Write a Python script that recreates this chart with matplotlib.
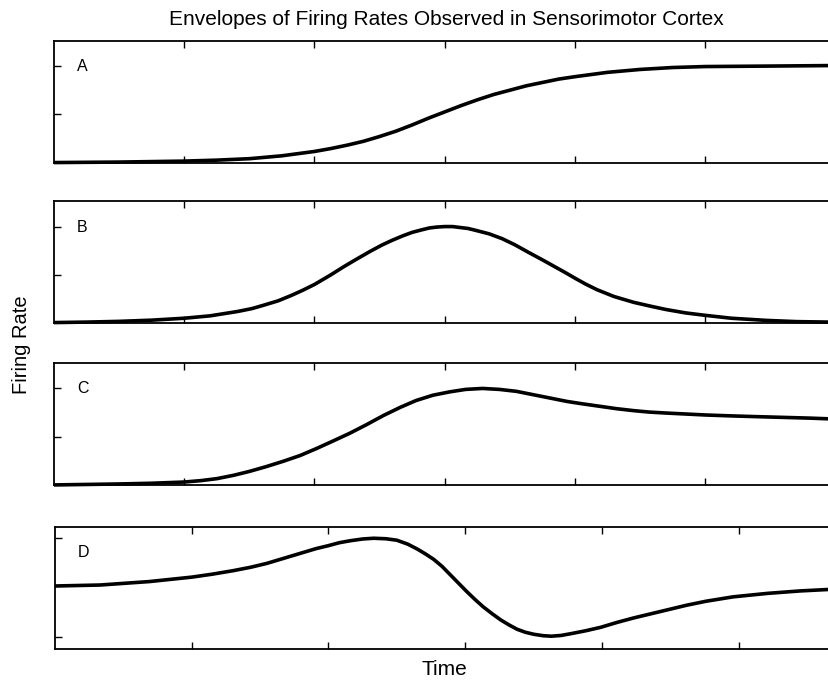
import numpy as np
import matplotlib.pyplot as plt

plt.rcParams['font.family'] = ['Liberation Sans', 'DejaVu Sans']

# time samples (arbitrary units) and the four firing-rate envelopes
t_a = [0.0, 0.25, 0.5, 0.75, 1.0, 1.25, 1.5, 1.75, 2.0, 2.125, 2.25, 2.375,
       2.5, 2.625, 2.75, 2.875, 3.0, 3.125, 3.25, 3.375, 3.5, 3.625, 3.75,
       3.875, 4.0, 4.25, 4.5, 4.75, 5.0, 5.5, 5.95]
rate_a = [0.0, 0.005, 0.01, 0.02, 0.03, 0.05, 0.08, 0.14, 0.23, 0.29, 0.36,
          0.44, 0.54, 0.65, 0.78, 0.92, 1.05, 1.18, 1.30, 1.41, 1.50, 1.59,
          1.66, 1.73, 1.78, 1.87, 1.93, 1.97, 1.99, 2.0, 2.01]

t_b = [0.0, 0.25, 0.5, 0.75, 1.0, 1.2, 1.41, 1.52, 1.61, 1.72, 1.82, 1.91,
       2.0, 2.12, 2.22, 2.32, 2.43, 2.52, 2.6, 2.68, 2.75, 2.82, 2.88, 2.94,
       3.0, 3.06, 3.12, 3.18, 3.24, 3.34, 3.44, 3.54, 3.64, 3.75, 3.85, 3.93,
       4.0, 4.08, 4.17, 4.3, 4.45, 4.58, 4.7, 4.85, 5.0, 5.2, 5.47, 5.7, 5.95]
rate_b = [0.01, 0.02, 0.035, 0.06, 0.10, 0.15, 0.24, 0.30, 0.37, 0.46, 0.57,
          0.68, 0.80, 0.99, 1.16, 1.32, 1.49, 1.62, 1.72, 1.81, 1.88, 1.93,
          1.97, 1.99, 2.0, 2.0, 1.98, 1.96, 1.92, 1.85, 1.75, 1.62, 1.47,
          1.31, 1.16, 1.04, 0.93, 0.81, 0.69, 0.55, 0.43, 0.35, 0.28, 0.21,
          0.16, 0.10, 0.055, 0.03, 0.02]

t_c = [0.0, 0.25, 0.5, 0.75, 1.0, 1.13, 1.25, 1.38, 1.5, 1.63, 1.76, 1.89,
       2.02, 2.15, 2.27, 2.4, 2.53, 2.66, 2.78, 2.91, 3.04, 3.16, 3.29, 3.42,
       3.55, 3.68, 3.81, 3.94, 4.06, 4.19, 4.32, 4.45, 4.57, 4.7, 4.85, 5.0,
       5.21, 5.4, 5.6, 5.8, 5.95]
rate_c = [0.0, 0.01, 0.02, 0.035, 0.06, 0.09, 0.13, 0.20, 0.28, 0.38, 0.49,
          0.61, 0.76, 0.92, 1.07, 1.25, 1.44, 1.61, 1.75, 1.86, 1.93, 1.98,
          2.0, 1.98, 1.94, 1.87, 1.80, 1.73, 1.68, 1.63, 1.58, 1.54, 1.51,
          1.49, 1.47, 1.45, 1.43, 1.415, 1.40, 1.385, 1.37]

# panel D runs on its own, slightly coarser time axis
t_d = [0.0, 0.33, 0.69, 1.0, 1.15, 1.3, 1.43, 1.55, 1.67, 1.79, 1.91, 2.0,
       2.08, 2.16, 2.25, 2.33, 2.42, 2.5, 2.58, 2.65, 2.71, 2.77, 2.83, 2.89,
       2.95, 3.01, 3.07, 3.13, 3.2, 3.26, 3.32, 3.38, 3.44, 3.5, 3.57, 3.63,
       3.7, 3.77, 3.88, 3.99, 4.11, 4.23, 4.35, 4.47, 4.62, 4.76, 4.96, 5.21,
       5.45, 5.66]
rate_d = [0.03, 0.05, 0.12, 0.21, 0.27, 0.34, 0.41, 0.49, 0.59, 0.69, 0.79,
          0.85, 0.91, 0.95, 0.985, 1.0, 0.99, 0.96, 0.88, 0.78, 0.68, 0.57,
          0.43, 0.26, 0.09, -0.08, -0.24, -0.39, -0.54, -0.66, -0.76, -0.85,
          -0.91, -0.95, -0.98, -0.99, -0.975, -0.94, -0.88, -0.81, -0.71,
          -0.62, -0.54, -0.46, -0.36, -0.28, -0.19, -0.12, -0.07, -0.04]

labels = ['A', 'B', 'C', 'D']
times = [t_a, t_b, t_c, t_d]
series = [rate_a, rate_b, rate_c, rate_d]
xlims = [(0, 5.95), (0, 5.95), (0, 5.95), (0, 5.66)]
ylims = [(0, 2.52), (0, 2.52), (0, 2.52), (-1.24, 1.23)]
yticks = [[1, 2], [1, 2], [1, 2], [-1, 1]]
xticks = [1, 2, 3, 4, 5]

fig = plt.figure(figsize=(8.29, 6.83), dpi=100)
lefts = [0.0651, 0.0651, 0.0651, 0.0663]
bottoms = [0.762, 0.527, 0.290, 0.0505]
height = 0.178

for lab, x, y, left, bot, xl, yl, yt in zip(labels, times, series, lefts,
                                            bottoms, xlims, ylims, yticks):
    ax = fig.add_axes([left, bot, 1.0 - left, height])
    ax.plot(x, y, color='black', lw=2.6, solid_joinstyle='round',
            solid_capstyle='butt', clip_on=False)
    ax.set_xlim(*xl)
    ax.set_ylim(*yl)
    ax.set_xticks(xticks)
    ax.set_yticks(yt)
    ax.tick_params(axis='x', direction='in', top=True, bottom=True,
                   length=5, width=1.0, labelbottom=False)
    ax.tick_params(axis='y', direction='in', left=True, right=False,
                   length=5, width=1.0, labelleft=False)
    ax.spines['right'].set_visible(False)
    for s in ['left', 'top', 'bottom']:
        ax.spines[s].set_linewidth(1.3)
    ax.text(0.03, 0.79, lab, transform=ax.transAxes, fontsize=11.5,
            ha='left', va='center')

fig.text(0.539, 0.971, 'Envelopes of Firing Rates Observed in Sensorimotor Cortex',
         ha='center', va='center', fontsize=15)
fig.text(0.536, 0.0195, 'Time', ha='center', va='center', fontsize=15)
fig.text(0.026, 0.495, 'Firing Rate', ha='center', va='center',
         rotation=90, fontsize=14.5)

fig.savefig('out.png', dpi=100)
